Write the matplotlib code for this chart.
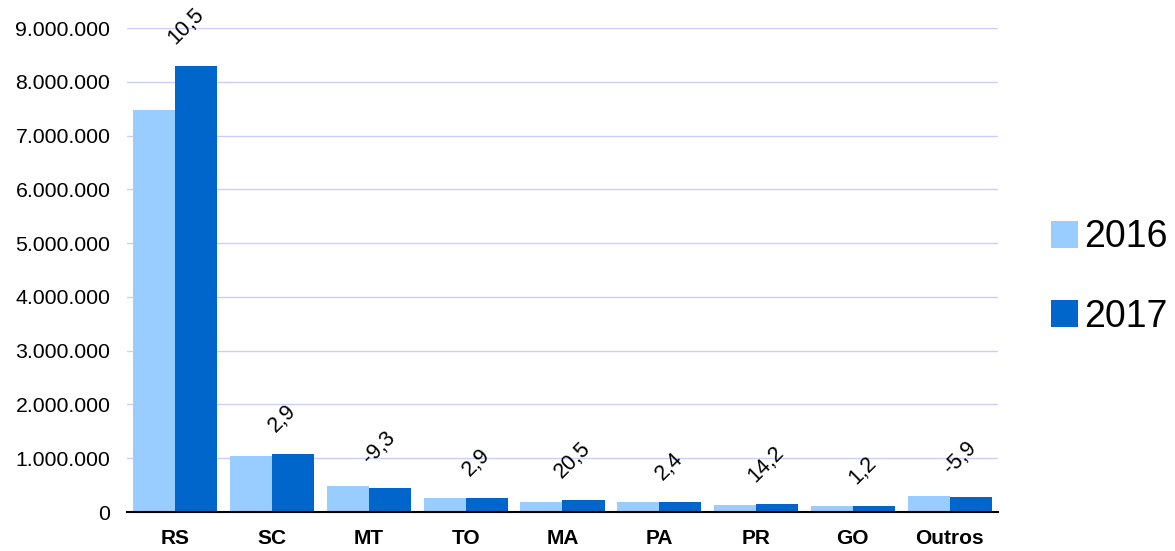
import matplotlib
matplotlib.use("Agg")
import matplotlib.pyplot as plt
import numpy as np
from matplotlib.ticker import FuncFormatter

plt.rcParams['font.family'] = ['Liberation Sans', 'DejaVu Sans']

categories = ["RS", "SC", "MT", "TO", "MA", "PA", "PR", "GO", "Outros"]
values_2016 = [7480000, 1040000, 480000, 260000, 185000, 180000, 135000, 110000, 300000]
values_2017 = [8290000, 1080000, 440000, 265000, 222000, 185000, 152000, 112000, 285000]
variation = ["10,5", "2,9", "-9,3", "2,9", "20,5", "2,4", "14,2", "1,2", "-5,9"]
series_labels = ["2016", "2017"]
yticks = list(range(0, 9000001, 1000000))

color_2016 = "#99CCFF"
color_2017 = "#0066CC"

fig = plt.figure(figsize=(11.75, 5.51), dpi=100)
ax = fig.add_axes([127/1175, 1-512/551, (998-127)/1175, (512-28)/551])

x = np.arange(len(categories))
w = 0.434
ax.bar(x - w/2, values_2016, width=w, color=color_2016, label=series_labels[0], zorder=2)
ax.bar(x + w/2, values_2017, width=w, color=color_2017, label=series_labels[1], zorder=2)

ax.set_xlim(-0.5, len(categories) - 0.5)
ax.set_ylim(0, 9000000)
ax.set_yticks(yticks)
ax.yaxis.set_major_formatter(FuncFormatter(lambda v, p: f"{int(v):,}".replace(",", ".")))
ax.yaxis.grid(True, color="#CCCCFF", linewidth=1.0, zorder=0)
ax.set_axisbelow(True)
ax.set_xticks(x)
ax.set_xticklabels(categories, fontweight='bold', fontsize=15)
ax.tick_params(axis='x', length=0, pad=12)
ax.tick_params(axis='y', length=0, pad=12, labelsize=15.3)
for s in ['top', 'right', 'left']:
    ax.spines[s].set_visible(False)
ax.spines['bottom'].set_color('black')
ax.spines['bottom'].set_linewidth(1.5)
ax.spines['bottom'].set_zorder(3)

for i, lab in enumerate(variation):
    top = max(values_2016[i], values_2017[i])
    ax.annotate(lab, xy=(i, top), xytext=(7.5, 12.5), textcoords='offset points',
                rotation=45, ha='center', va='bottom', fontsize=15.5)

fig.legend(loc='center left', bbox_to_anchor=(1051/1175, 1-277/551), frameon=False,
           fontsize=27, handlelength=0.72, handleheight=0.72, handletextpad=0.15,
           labelspacing=1.15, borderpad=0, borderaxespad=0)

fig.savefig("out.png", dpi=100)
